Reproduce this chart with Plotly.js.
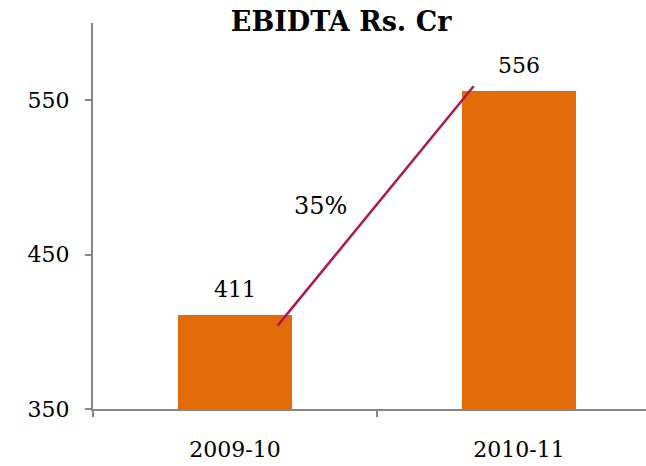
<!DOCTYPE html>
<html>
<head>
<meta charset="utf-8">
<script src="https://cdn.plot.ly/plotly-3.0.1.min.js"></script>
<style>
  html, body { margin: 0; padding: 0; background: #fff; }
  #graph { width: 646px; height: 466px; }
</style>
</head>
<body>
<div id="graph"></div>
<script>
// Data
var years = ['2009-10', '2010-11'];
var ebitda = [411, 556];
// growth connector line (drawn from just inside bar 1 to just past bar 2 top)
var growthX = [0.15, 0.84];
var growthY = [404, 559];

var serif = 'DejaVu Serif';
var axisGrey = '#868686';

var yearPos = years.map(function (y, i) { return i; });

// growth % label, e.g. 35%
var growthPct = Math.round((ebitda[1] - ebitda[0]) / ebitda[0] * 100) + '%';

let data = [
    { // the bars
        type: 'bar',
        x: yearPos,
        y: ebitda,
        width: 0.4,
        marker: {color: '#E36C0A'},
        hoverinfo: 'none'
    },
    { // growth line
        type: 'scatter',
        mode: 'lines',
        x: growthX,
        y: growthY,
        line: {color: '#B0184A', width: 2.5},
        hoverinfo: 'none'
    }
];

// value labels above each bar
let annotations = ebitda.map(function (v, i) {
    return {
        x: yearPos[i], y: v, xref: 'x', yref: 'y',
        text: String(v), showarrow: false,
        yanchor: 'middle', yshift: 25,
        font: {family: serif, size: 22, color: '#000'}
    };
});
annotations.push({
    x: (growthX[0] + growthX[1]) / 2,
    y: (growthY[0] + growthY[1]) / 2,
    xref: 'x', yref: 'y',
    text: growthPct, showarrow: false,
    xshift: -55,
    font: {family: serif, size: 24, color: '#000'}
});

let layout = {
    width: 646,
    height: 466,
    margin: {l: 93, r: 0, t: 23, b: 57, pad: 0},
    paper_bgcolor: '#fff',
    plot_bgcolor: '#fff',
    showlegend: false,
    title: {
        text: 'EBIDTA Rs. Cr',
        x: 0.528, xref: 'container', xanchor: 'center',
        y: 0.953, yref: 'container', yanchor: 'middle',
        font: {family: serif, size: 27, weight: 'bold', color: '#000'}
    },
    xaxis: {
        range: [-0.5, 1.447],
        tickmode: 'array',
        tickvals: yearPos,
        ticktext: years,
        ticks: '',
        showgrid: false,
        zeroline: false,
        showline: true,
        linecolor: axisGrey,
        linewidth: 2,
        ticklabelstandoff: 20,
        tickfont: {family: serif, size: 22, color: '#000'},
        minor: {
            tickmode: 'array',
            tickvals: [-0.5, 0.5, 1.5],
            ticks: 'outside',
            ticklen: 6,
            tickwidth: 2,
            tickcolor: axisGrey,
            showgrid: false
        },
        fixedrange: true
    },
    yaxis: {
        range: [350, 600],
        tickvals: [350, 450, 550],
        ticks: 'outside',
        ticklen: 6,
        tickwidth: 2,
        tickcolor: axisGrey,
        showgrid: false,
        zeroline: false,
        showline: true,
        linecolor: axisGrey,
        linewidth: 2,
        ticklabelstandoff: 11,
        tickfont: {family: serif, size: 22, color: '#000'},
        fixedrange: true
    },
    annotations: annotations,
    bargap: 0
};

Plotly.newPlot('graph', data, layout, {displayModeBar: false, staticPlot: true});
</script>
</body>
</html>
